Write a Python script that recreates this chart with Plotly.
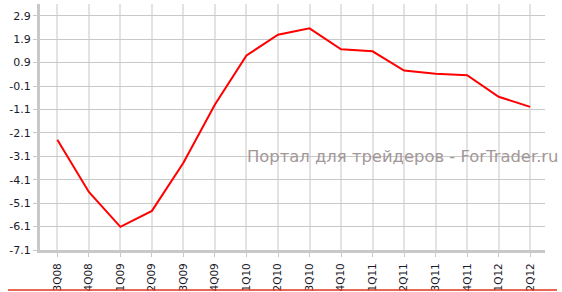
import plotly.graph_objects as go

quarters = ["3Q08", "4Q08", "1Q09", "2Q09", "3Q09", "4Q09", "1Q10", "2Q10",
            "3Q10", "4Q10", "1Q11", "2Q11", "3Q11", "4Q11", "1Q12", "2Q12"]
values = [-2.39, -4.62, -6.11, -5.43, -3.38, -0.89, 1.20, 2.09,
          2.36, 1.47, 1.38, 0.56, 0.42, 0.36, -0.56, -0.99]
y_ticks = [2.9, 1.9, 0.9, -0.1, -1.1, -2.1, -3.1, -4.1, -5.1, -6.1, -7.1]
y_tick_text = ["2.9", "1.9", "0.9", "-0.1", "-1.1", "-2.1", "-3.1", "-4.1", "-5.1", "-6.1", "-7.1"]
watermark = "Портал для трейдеров - ForTrader.ru"

W, H = 562, 292
L, R, T, B = 40, 17, 4, 42
pw, ph = W - L - R, H - T - B

fig = go.Figure()
fig.add_trace(go.Scatter(
    x=list(range(len(quarters))), y=values, mode="lines",
    line=dict(color="#ff0000", width=2), showlegend=False, hoverinfo="skip"))

font = dict(family="DejaVu Sans, Verdana, sans-serif", size=11, color="#1a1a2a")
xfont = dict(family="DejaVu Sans, Verdana, sans-serif", size=10.5, color="#1a1a2a")

fig.update_layout(
    width=W, height=H,
    margin=dict(l=L, r=R, t=T, b=B),
    paper_bgcolor="white", plot_bgcolor="white",
    xaxis=dict(
        range=[-0.55, 15.47], tickmode="array", automargin=False,
        tickvals=list(range(len(quarters))), ticktext=quarters,
        tickangle=-90, tickfont=xfont, ticklabelstandoff=2,
        ticklabeloverflow="allow",
        showgrid=True, gridcolor="#e3e3e3", gridwidth=2,
        showline=True, linecolor="#c8c8c8", linewidth=3,
        ticks="outside", ticklen=4, tickcolor="#c8c8c8", zeroline=False),
    yaxis=dict(
        range=[-7.1, 3.4], tickmode="array", automargin=False,
        tickvals=y_ticks, ticktext=y_tick_text, tickfont=font,
        ticklabeloverflow="allow",
        showgrid=True, gridcolor="#c8c8c8", gridwidth=1,
        showline=True, linecolor="#c8c8c8", linewidth=3,
        ticks="outside", ticklen=4, tickcolor="#c8c8c8", zeroline=False),
    annotations=[dict(
        text=watermark, xref="paper", yref="paper",
        x=(245 - L) / pw, y=(H - B - 156) / ph, xanchor="left", yanchor="middle",
        showarrow=False,
        font=dict(family="DejaVu Sans, Verdana, sans-serif", size=16.4, color="#a39898"))],
    shapes=[dict(
        type="line", xref="paper", yref="paper",
        x0=(8 - L) / pw, x1=(557 - L) / pw,
        y0=(H - B - 290) / ph, y1=(H - B - 290) / ph,
        line=dict(color="#e0341c", width=1.5))],
)

fig.write_html("out.html")
